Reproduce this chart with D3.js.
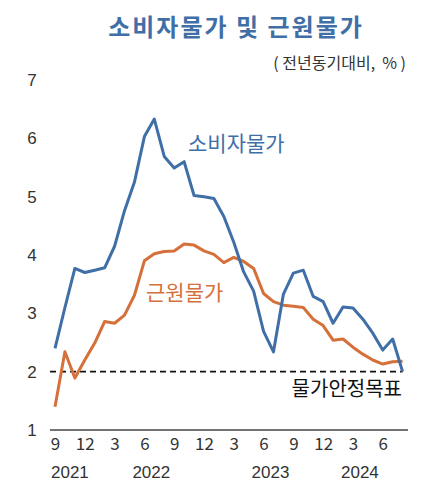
<!DOCTYPE html>
<html>
<head>
	<meta charset="utf-8">
	<title>소비자물가 및 근원물가</title>
	<script src="https://d3js.org/d3.v7.min.js"></script>
	<style>
		body { margin: 0; background: #fff; }
		text { font-family: "Noto Sans CJK KR", "Noto Sans", sans-serif; }
		.num { font-family: "Liberation Sans", Arial, sans-serif; }
	</style>
</head>
<body>
	<script type="text/javascript">

	//---- DATA ----//

		// months from 2021.9 to 2024.8
		var months = ["2021.9","2021.10","2021.11","2021.12",
			"2022.1","2022.2","2022.3","2022.4","2022.5","2022.6","2022.7","2022.8","2022.9","2022.10","2022.11","2022.12",
			"2023.1","2023.2","2023.3","2023.4","2023.5","2023.6","2023.7","2023.8","2023.9","2023.10","2023.11","2023.12",
			"2024.1","2024.2","2024.3","2024.4","2024.5","2024.6","2024.7","2024.8"];

		// 소비자물가
		var cpi = [2.4, 3.1, 3.77, 3.7,
			3.74, 3.78, 4.15, 4.76, 5.25, 6.03, 6.33, 5.69, 5.49, 5.6, 5.02, 5.0,
			4.97, 4.66, 4.22, 3.71, 3.38, 2.69, 2.34, 3.33, 3.69, 3.74, 3.29, 3.2,
			2.83, 3.11, 3.09, 2.9, 2.66, 2.37, 2.56, 2.0];

		// 근원물가
		var core = [1.4, 2.34, 1.89, 2.2,
			2.49, 2.86, 2.83, 2.97, 3.31, 3.9, 4.02, 4.06, 4.07, 4.19, 4.17, 4.07,
			4.01, 3.87, 3.96, 3.89, 3.77, 3.34, 3.2, 3.14, 3.12, 3.1, 2.9, 2.79,
			2.54, 2.56, 2.42, 2.3, 2.2, 2.13, 2.17, 2.18];

		var target = 2;
		var yTicks = [1, 2, 3, 4, 5, 6, 7];
		var monthTicks = [0, 3, 6, 9, 12, 15, 18, 21, 24, 27, 30, 33];
		var monthLabels = ["9", "12", "3", "6", "9", "12", "3", "6", "9", "12", "3", "6"];
		var years = ["2021", "2022", "2023", "2024"];
		var yearPos = [1.5, 9.7, 21.7, 30.7];

	//---- CHART ----//

		var blue = "#3f6fa6";
		var orange = "#d5703a";

		var svg = d3.select("body").append("svg")
			.attr("width", 438)
			.attr("height", 500);

		var x = d3.scaleLinear().domain([0, months.length - 1]).range([55, 402.6]);
		var y = d3.scaleLinear().domain([1, 7]).range([430, 80]);

		// title
		svg.append("text")
			.attr("x", 236).attr("y", 36)
			.attr("text-anchor", "middle")
			.attr("font-size", 24)
			.attr("font-weight", "bold")
			.attr("letter-spacing", 2)
			.attr("fill", blue)
			.text("소비자물가  및  근원물가");

		svg.append("text")
			.attr("x", 406).attr("y", 69)
			.attr("text-anchor", "end")
			.attr("font-size", 16)
			.attr("fill", "#333")
			.attr("xml:space", "preserve")
			.style("white-space", "pre")
			.text("( 전년동기대비,  % )");

		// y labels, no axis line
		svg.append("g")
			.selectAll("text")
			.data(yTicks)
			.enter()
				.append("text")
				.attr("class", "num")
				.attr("x", 32)
				.attr("y", function(d) { return y(d); })
				.attr("dy", "0.35em")
				.attr("text-anchor", "middle")
				.attr("font-size", 17)
				.attr("fill", "#333")
				.text(function(d) { return d; });

		// bottom axis
		var xAxis = svg.append("g")
			.attr("transform", "translate(0," + y(1) + ")")
			.call(d3.axisBottom(x)
				.tickValues(monthTicks)
				.tickSize(0)
				.tickPadding(8)
				.tickFormat(function(d, i) { return monthLabels[i]; }));
		xAxis.select(".domain")
			.attr("d", "M50,0H408")
			.attr("stroke", "#444")
			.attr("stroke-width", 1.6);
		xAxis.selectAll("text")
			.attr("font-family", "Liberation Sans, Arial, sans-serif")
			.attr("font-size", 17)
			.attr("fill", "#333");

		svg.append("g")
			.selectAll("text")
			.data(years)
			.enter()
				.append("text")
				.attr("class", "num")
				.attr("x", function(d, i) { return x(yearPos[i]); })
				.attr("y", 478)
				.attr("text-anchor", "middle")
				.attr("font-size", 17)
				.attr("fill", "#333")
				.text(function(d) { return d; });

		// target line
		svg.append("line")
			.attr("x1", 50).attr("x2", x(months.length - 1))
			.attr("y1", y(target)).attr("y2", y(target))
			.attr("stroke", "#111")
			.attr("stroke-width", 1.6)
			.attr("stroke-dasharray", "6,4");

		svg.append("text")
			.attr("x", 402).attr("y", 396)
			.attr("text-anchor", "end")
			.attr("font-size", 20)
			.attr("fill", "#111")
			.text("물가안정목표");

		// lines
		var line = d3.line()
			.x(function(d, i) { return x(i); })
			.y(function(d) { return y(d); });

		svg.append("path")
			.datum(core)
			.attr("fill", "none")
			.attr("stroke", orange)
			.attr("stroke-width", 3)
			.attr("stroke-linejoin", "round")
			.attr("d", line);

		svg.append("path")
			.datum(cpi)
			.attr("fill", "none")
			.attr("stroke", blue)
			.attr("stroke-width", 3)
			.attr("stroke-linejoin", "round")
			.attr("d", line);

		// series labels
		svg.append("text")
			.attr("x", 188).attr("y", 151)
			.attr("font-size", 21)
			.attr("fill", blue)
			.text("소비자물가");

		svg.append("text")
			.attr("x", 146).attr("y", 300)
			.attr("font-size", 21)
			.attr("fill", orange)
			.text("근원물가");

	</script>
</body>
</html>
